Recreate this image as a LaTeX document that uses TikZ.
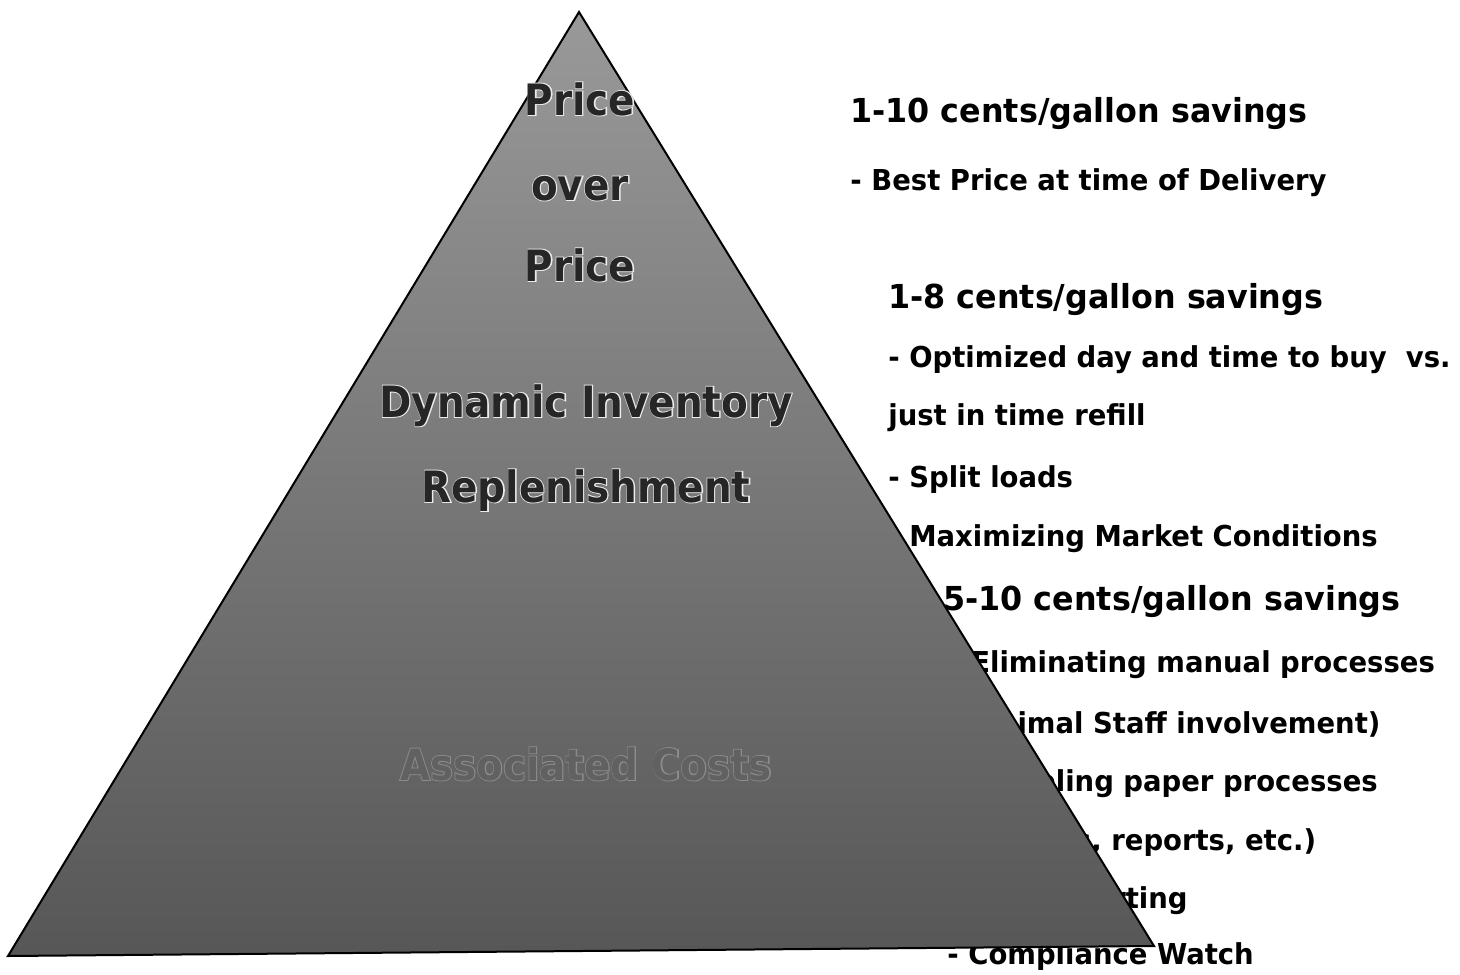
\documentclass[tikz,border=0pt]{standalone}
\usepackage{fontspec}
\setmainfont{DejaVu Sans Condensed}
\usetikzlibrary{positioning}

\tikzset{
  % right hand column
  gain/.style={anchor=base west, inner sep=0pt, font=\fontsize{16.5}{18}\selectfont\bfseries\addfontfeature{FakeStretch=1.07}},
  point/.style={anchor=base west, inner sep=0pt, font=\fontsize{14.4}{16}\selectfont\bfseries\addfontfeature{FakeStretch=1.06}},
  % pyramid labels: a light halo under a dark face
  tier/.style={anchor=base, font=\fontsize{21.6}{24}\selectfont\bfseries, text=black!85},
  halo/.style={anchor=base, font=\fontsize{21.6}{24}\selectfont\bfseries\addfontfeature{FakeBold=4}, text=white!92!black},
}

\begin{document}
\begin{tikzpicture}[x=0.5pt, y=-0.5pt]
        \useasboundingbox[fill=white] (0,0) rectangle (1460,974);
        % Savings for the top tier
        \node[gain] (g1) at (850,123) {1-10 cents/gallon savings};
        \node[point] (g1a) at (850,190) {- Best Price at time of Delivery};
        % Savings for the middle tier
        \node[gain] (g2) at (888,308) {1-8 cents/gallon savings};
        \node[point] (g2a) at (888,367) {- Optimized day and time to buy\ \ vs.};
        \node[point] (g2b) at (888,425) {just in time refill};
        \node[point] (g2c) at (888,487) {- Split loads};
        \node[point] (g2d) at (888,546) {- Maximizing Market Conditions};
        % Savings for the bottom tier
        \node[gain] (g3) at (943,610) {5-10 cents/gallon savings};
        \node[point] (g3a) at (950,672) {- Eliminating manual processes};
        \node[point] (g3b) at (947,733) {(minimal Staff involvement)};
        \node[point] (g3c) at (958,791) {- Enabling paper processes};
        \node[point] (g3d) at (952,850) {(invoices, reports, etc.)};
        \node[point] (g3e) at (952,908) {- Tax Reporting};
        \node[point] (g3f) at (947,964) {- Compliance Watch};
        % The pyramid lies over the start of the lines
        \coordinate (apex) at (579,12);
        \coordinate (bl) at (8,956);
        \coordinate (br) at (1154,946);
        \path[top color=black!40, bottom color=black!66, draw=black, line width=1pt]
            (apex) -- (br) -- (bl) -- cycle;
        % Labels inside the pyramid
        \node[halo] (priceA-h) at (580,115) {Price};
        \node[tier] (priceA) at (580,115) {Price};
        \node[halo] (over-h) at (580,200) {over};
        \node[tier] (over) at (580,200) {over};
        \node[halo] (priceB-h) at (580,281) {Price};
        \node[tier] (priceB) at (580,281) {Price};
        \node[halo] (dyn-h) at (586,417) {Dynamic Inventory};
        \node[tier] (dyn) at (586,417) {Dynamic Inventory};
        \node[halo] (repl-h) at (586,502) {Replenishment};
        \node[tier] (repl) at (586,502) {Replenishment};
        \node[halo, text=black!45] (cost-h) at (586,780) {Associated Costs};
        \node[tier, text=black!62] (cost) at (586,780) {Associated Costs};
    \end{tikzpicture}
\end{document}
